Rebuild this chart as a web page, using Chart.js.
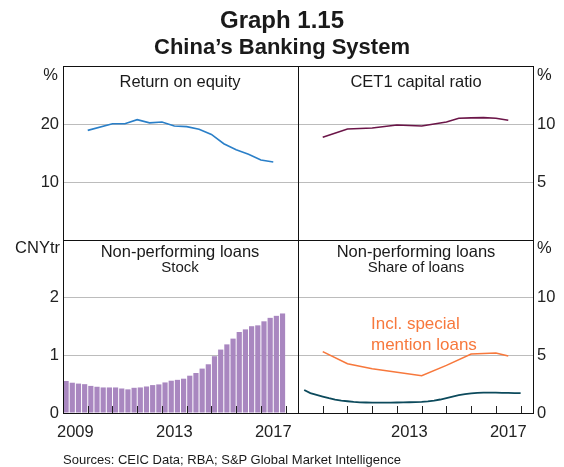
<!DOCTYPE html>
<html>
<head>
<meta charset="utf-8">
<script src="https://cdn.jsdelivr.net/npm/chart.js@4.4.1/dist/chart.umd.min.js"></script>
<style>
  body { margin: 0; background: #fff; }
  #wrap { position: relative; width: 564px; height: 467px; font-family: "Liberation Sans", Arial, sans-serif; color: #1a1a1a; }
  #wrap canvas { position: absolute; left: 0; top: 0; }
  .t { position: absolute; white-space: nowrap; line-height: 1; }
  .c { transform: translateX(-50%); }
</style>
</head>
<body>
<div id="wrap">
  <canvas id="roeChart" width="564" height="467"></canvas>
  <canvas id="cet1Chart" width="564" height="467"></canvas>
  <canvas id="stockChart" width="564" height="467"></canvas>
  <canvas id="shareChart" width="564" height="467"></canvas>

  <div class="t c" style="left:282px;top:8px;font-size:24px;font-weight:bold;">Graph 1.15</div>
  <div class="t c" style="left:282px;top:36px;font-size:22px;font-weight:bold;">China’s Banking System</div>

  <div class="t c" style="left:180px;top:73px;font-size:16.5px;">Return on equity</div>
  <div class="t c" style="left:416px;top:73px;font-size:16.5px;">CET1 capital ratio</div>
  <div class="t c" style="left:180px;top:243px;font-size:16.5px;">Non-performing loans</div>
  <div class="t c" style="left:180px;top:259px;font-size:15px;">Stock</div>
  <div class="t c" style="left:416px;top:243px;font-size:16.5px;">Non-performing loans</div>
  <div class="t c" style="left:416px;top:259px;font-size:15px;">Share of loans</div>

  <div class="t" style="right:506px;top:66px;font-size:16.5px;">%</div>
  <div class="t" style="left:537px;top:66px;font-size:16.5px;">%</div>
  <div class="t" style="right:504px;top:239px;font-size:16.5px;">CNYtr</div>
  <div class="t" style="left:537px;top:239px;font-size:16.5px;">%</div>

  <div class="t" style="left:371px;top:313px;font-size:17px;color:#f7783c;line-height:21px;">Incl. special<br>mention loans</div>

  <div class="t" style="left:63px;top:453px;font-size:13px;">Sources: CEIC Data; RBA; S&amp;P Global Market Intelligence</div>
</div>

<script>
// --- Data ---
const roeDates = [2010, 2011, 2011.5, 2012, 2012.5, 2013, 2013.5, 2014, 2014.5, 2015, 2015.5, 2016, 2016.5, 2017, 2017.5];
const roeValues = [18.9, 20.05, 20.05, 20.75, 20.2, 20.35, 19.65, 19.55, 19.1, 18.2, 16.6, 15.55, 14.8, 13.8, 13.45];

const cet1Dates = [2010, 2011, 2012, 2013, 2014, 2015, 2015.5, 2016, 2016.5, 2017, 2017.5];
const cet1Values = [8.85, 9.57, 9.66, 9.91, 9.83, 10.17, 10.49, 10.53, 10.55, 10.49, 10.32];

// quarterly, 2009 Q1 .. 2017 Q4
const stockValues = [0.555, 0.525, 0.51, 0.5, 0.47, 0.455, 0.443, 0.443, 0.443, 0.425, 0.41, 0.437,
                     0.443, 0.46, 0.484, 0.496, 0.53, 0.56, 0.575, 0.595, 0.647, 0.694, 0.77, 0.845,
                     0.985, 1.1, 1.19, 1.29, 1.405, 1.45, 1.505, 1.52, 1.59, 1.65, 1.685, 1.726];

// quarterly, 2009 Q1 .. 2017 Q4
const shareValues = [2.0, 1.72, 1.57, 1.42, 1.28, 1.16, 1.08, 1.02, 0.96, 0.93, 0.91, 0.9,
                     0.9, 0.9, 0.9, 0.91, 0.92, 0.93, 0.94, 0.96, 1.0, 1.07, 1.17, 1.3,
                     1.43, 1.55, 1.64, 1.7, 1.75, 1.77, 1.77, 1.76, 1.75, 1.74, 1.73, 1.72];

const specialDates = [2010, 2011, 2012, 2014, 2015, 2016, 2017, 2017.5];
const specialValues = [5.32, 4.27, 3.84, 3.23, 4.13, 5.12, 5.2, 4.94];

const yearTicks = [2010, 2011, 2012, 2013, 2014, 2015, 2016, 2017, 2018];
const leftYearLabels = [2009, 2013, 2017];
const rightYearLabels = [2013, 2017];

// quarter positions (bar centres and quarter ends)
const quarterMids = [];
const quarterEnds = [];
for (let y = 2009; y < 2018; y++) {
    for (let q = 0; q < 4; q++) {
        quarterMids.push(y + q * 0.25 + 0.125);
        quarterEnds.push(y + (q + 1) * 0.25);
    }
}

// --- Helpers ---
const FONT = '"Liberation Sans", Arial, sans-serif';
const W = 564, H = 467;
const LEFT_AXIS = 63, RIGHT_AXIS = 31, X_AXIS = 30;

const toPoints = (xs, ys) => xs.map((x, i) => ({ x, y: ys[i] }));

// frame round each panel, plus little year ticks standing on the x axis
const framePlugin = {
    id: 'frame',
    afterDraw(chart, args, opts) {
        const { ctx, chartArea: a } = chart;
        ctx.save();
        if (opts.yearTicks) {
            const xs = chart.scales.x;
            ctx.strokeStyle = '#222';
            ctx.lineWidth = 1;
            opts.yearTicks.forEach(yr => {
                const px = Math.round(xs.getPixelForValue(yr)) + 0.5;
                ctx.beginPath();
                ctx.moveTo(px, a.bottom);
                ctx.lineTo(px, a.bottom - 7);
                ctx.stroke();
            });
        }
        ctx.strokeStyle = '#111';
        ctx.lineWidth = 1;
        ctx.strokeRect(a.left + 0.5, a.top + 0.5, a.right - a.left, a.bottom - a.top);
        ctx.restore();
    }
};

const makePanel = (id, type, datasets, cfg) => {
    const yLeft = cfg.yPos === 'left';
    const a = cfg.area;
    const showX = !!cfg.xLabels;
    const padding = {
        left: yLeft ? a.left - LEFT_AXIS : a.left,
        right: yLeft ? W - a.right : W - a.right - RIGHT_AXIS,
        top: a.top,
        bottom: showX ? H - a.bottom - X_AXIS : H - a.bottom
    };
    return new Chart(document.getElementById(id), {
        type,
        data: { datasets },
        plugins: [framePlugin],
        options: {
            responsive: false,
            animation: false,
            devicePixelRatio: 1,
            layout: { padding },
            plugins: {
                legend: { display: false },
                tooltip: { enabled: false },
                frame: { yearTicks: showX ? yearTicks : null }
            },
            scales: {
                x: {
                    type: 'linear',
                    min: 2009,
                    max: 2018.5,
                    offset: false,
                    display: showX,
                    grid: { display: false, offset: false },
                    border: { display: false },
                    afterBuildTicks: (s) => {
                        if (showX) s.ticks = cfg.xLabels.map(v => ({ value: v + 0.5 }));
                    },
                    afterFit: (s) => { s.height = showX ? X_AXIS : 0; },
                    ticks: {
                        autoSkip: false,
                        maxRotation: 0,
                        padding: 2,
                        color: '#222',
                        font: { family: FONT, size: 16.5 },
                        callback: (v) => String(Math.floor(v))
                    }
                },
                y: {
                    position: cfg.yPos,
                    min: cfg.yMin,
                    max: cfg.yMax,
                    border: { display: false },
                    grid: { color: '#bcbcbc', lineWidth: 1, drawTicks: false },
                    afterFit: (s) => { s.width = yLeft ? LEFT_AXIS : RIGHT_AXIS; },
                    ticks: {
                        stepSize: cfg.step,
                        padding: 4,
                        color: '#222',
                        font: { family: FONT, size: 16.5 },
                        callback: (v) => cfg.yShown.includes(v) ? String(v) : ''
                    }
                }
            }
        }
    });
};

const lineSet = (points, color, width) => ({
    data: points,
    borderColor: color,
    borderWidth: width,
    pointRadius: 0,
    tension: 0,
    fill: false
});

// --- Panels ---
makePanel('roeChart', 'line', [lineSet(toPoints(roeDates, roeValues), '#2a7fc8', 1.6)], {
    area: { left: 63, top: 66, right: 298, bottom: 240 },
    yPos: 'left', yMin: 0, yMax: 30, step: 10, yShown: [10, 20]
});

makePanel('cet1Chart', 'line', [lineSet(toPoints(cet1Dates, cet1Values), '#6b1548', 1.6)], {
    area: { left: 298, top: 66, right: 533, bottom: 240 },
    yPos: 'right', yMin: 0, yMax: 15, step: 5, yShown: [5, 10]
});

makePanel('stockChart', 'bar', [{
    data: toPoints(quarterMids, stockValues),
    backgroundColor: '#a987c0',
    borderWidth: 0,
    barPercentage: 0.84,
    categoryPercentage: 1
}], {
    area: { left: 63, top: 240, right: 298, bottom: 413 },
    yPos: 'left', yMin: 0, yMax: 3, step: 1, yShown: [0, 1, 2],
    xLabels: leftYearLabels
});

makePanel('shareChart', 'line', [
    lineSet(toPoints(specialDates, specialValues), '#f7783c', 1.6),
    lineSet(toPoints(quarterEnds, shareValues), '#0c4a5c', 1.8)
], {
    area: { left: 298, top: 240, right: 533, bottom: 413 },
    yPos: 'right', yMin: 0, yMax: 15, step: 5, yShown: [0, 5, 10],
    xLabels: rightYearLabels
});
</script>
</body>
</html>
